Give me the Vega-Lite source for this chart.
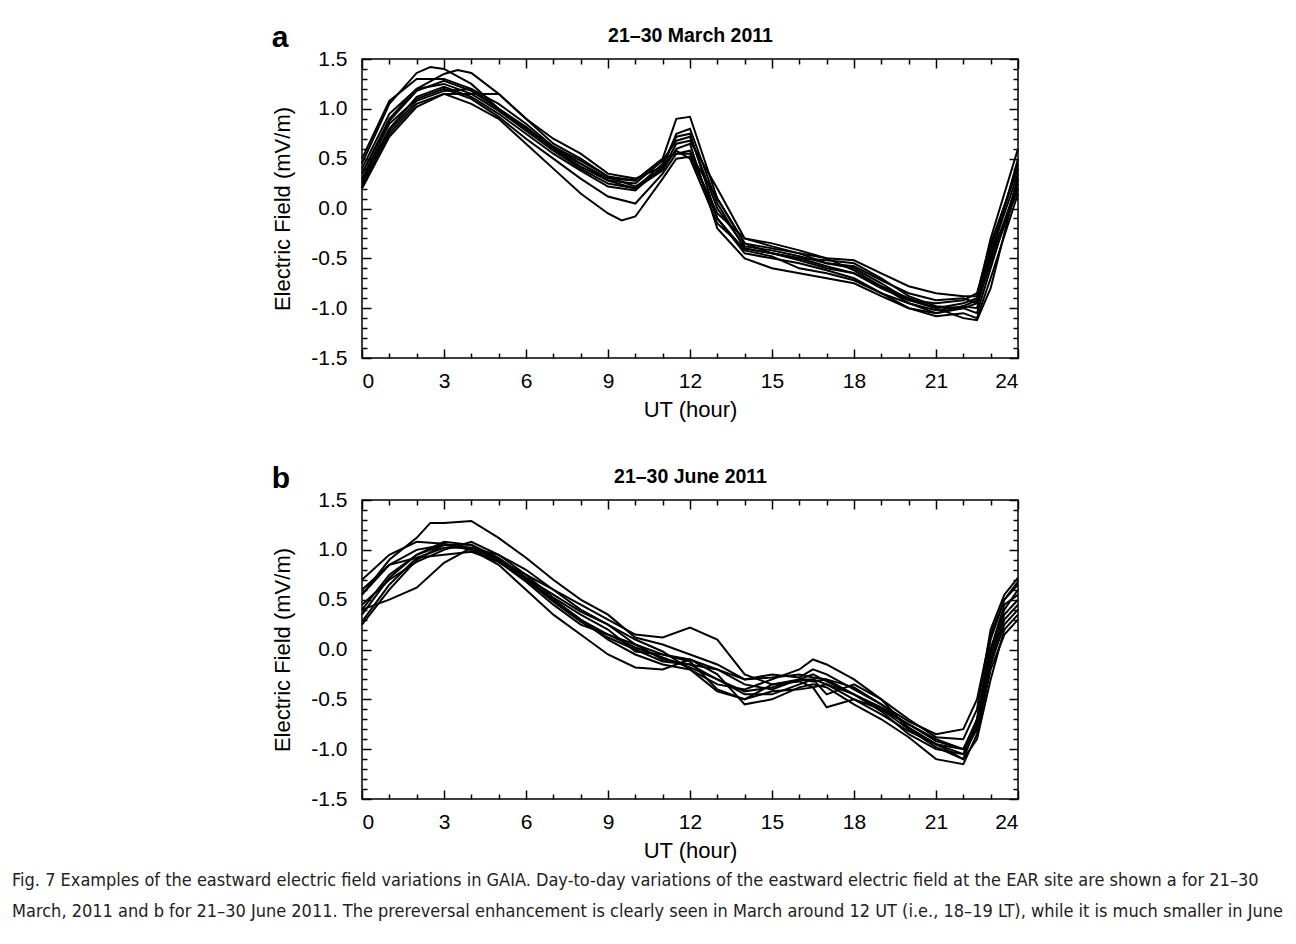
{
"$schema": "https://vega.github.io/schema/vega-lite/v6.json",
"padding": {"left": 12, "top": 22, "right": 6, "bottom": 6},
"background": "white",
"config": {
 "font": "Liberation Sans",
 "view": {"stroke": "black", "strokeWidth": 1.5},
 "concat": {"spacing": 42},
 "axis": {"domain": false, "grid": false, "tickColor": "black", "tickWidth": 1.5, "labelColor": "black", "labelFont": "Liberation Sans", "labelFontSize": 21, "titleFont": "Liberation Sans", "titleFontSize": 22, "titleFontWeight": "normal", "titleColor": "black"}
},
"title": {
 "text": ["Fig. 7 Examples of the eastward electric field variations in GAIA. Day-to-day variations of the eastward electric field at the EAR site are shown a for 21–30", "March, 2011 and b for 21–30 June 2011. The prereversal enhancement is clearly seen in March around 12 UT (i.e., 18–19 LT), while it is much smaller in June"],
 "orient": "bottom", "anchor": "start", "frame": "bounds", "dx": -259, "offset": 10,
 "font": "Liberation Sans Narrow, DejaVu Sans Condensed, sans-serif", "fontSize": 18, "fontWeight": "normal", "color": "#222", "lineHeight": 31
},
"datasets": {
"march": [
{"d":1,"h":0,"v":0.45},{"d":1,"h":1,"v":1.05},{"d":1,"h":2,"v":1.36},{"d":1,"h":2.5,"v":1.42},{"d":1,"h":3,"v":1.40},{"d":1,"h":4,"v":1.25},{"d":1,"h":5,"v":1.0},{"d":1,"h":6,"v":0.8},{"d":1,"h":7,"v":0.62},{"d":1,"h":8,"v":0.48},{"d":1,"h":9,"v":0.32},{"d":1,"h":10,"v":0.28},{"d":1,"h":11,"v":0.5},{"d":1,"h":11.5,"v":0.9},{"d":1,"h":12,"v":0.92},{"d":1,"h":13,"v":0.1},{"d":1,"h":14,"v":-0.35},{"d":1,"h":15,"v":-0.4},{"d":1,"h":16,"v":-0.45},{"d":1,"h":17,"v":-0.55},{"d":1,"h":18,"v":-0.6},{"d":1,"h":19,"v":-0.75},{"d":1,"h":20,"v":-0.92},{"d":1,"h":21,"v":-1.0},{"d":1,"h":22,"v":-0.95},{"d":1,"h":22.5,"v":-0.9},{"d":1,"h":23,"v":-0.4},{"d":1,"h":24,"v":0.45},
{"d":2,"h":0,"v":0.35},{"d":2,"h":1,"v":0.9},{"d":2,"h":2,"v":1.2},{"d":2,"h":3,"v":1.35},{"d":2,"h":3.5,"v":1.39},{"d":2,"h":4,"v":1.36},{"d":2,"h":5,"v":1.15},{"d":2,"h":6,"v":0.9},{"d":2,"h":7,"v":0.7},{"d":2,"h":8,"v":0.55},{"d":2,"h":9,"v":0.35},{"d":2,"h":10,"v":0.3},{"d":2,"h":11,"v":0.42},{"d":2,"h":11.5,"v":0.75},{"d":2,"h":12,"v":0.8},{"d":2,"h":13,"v":0.05},{"d":2,"h":14,"v":-0.4},{"d":2,"h":15,"v":-0.45},{"d":2,"h":16,"v":-0.5},{"d":2,"h":17,"v":-0.52},{"d":2,"h":18,"v":-0.55},{"d":2,"h":19,"v":-0.7},{"d":2,"h":20,"v":-0.88},{"d":2,"h":21,"v":-0.98},{"d":2,"h":22,"v":-1.0},{"d":2,"h":22.5,"v":-1.05},{"d":2,"h":23,"v":-0.6},{"d":2,"h":24,"v":0.3},
{"d":3,"h":0,"v":0.25},{"d":3,"h":1,"v":0.75},{"d":3,"h":2,"v":1.05},{"d":3,"h":3,"v":1.15},{"d":3,"h":4,"v":1.05},{"d":3,"h":5,"v":0.9},{"d":3,"h":6,"v":0.65},{"d":3,"h":7,"v":0.4},{"d":3,"h":8,"v":0.15},{"d":3,"h":9,"v":-0.05},{"d":3,"h":9.5,"v":-0.12},{"d":3,"h":10,"v":-0.08},{"d":3,"h":11,"v":0.3},{"d":3,"h":11.5,"v":0.5},{"d":3,"h":12,"v":0.52},{"d":3,"h":13,"v":-0.05},{"d":3,"h":14,"v":-0.3},{"d":3,"h":15,"v":-0.35},{"d":3,"h":16,"v":-0.42},{"d":3,"h":17,"v":-0.5},{"d":3,"h":18,"v":-0.62},{"d":3,"h":19,"v":-0.78},{"d":3,"h":20,"v":-0.95},{"d":3,"h":21,"v":-1.05},{"d":3,"h":22,"v":-1.0},{"d":3,"h":22.5,"v":-0.95},{"d":3,"h":23,"v":-0.55},{"d":3,"h":24,"v":0.2},
{"d":4,"h":0,"v":0.3},{"d":4,"h":1,"v":0.85},{"d":4,"h":2,"v":1.1},{"d":4,"h":3,"v":1.2},{"d":4,"h":4,"v":1.1},{"d":4,"h":5,"v":0.92},{"d":4,"h":6,"v":0.7},{"d":4,"h":7,"v":0.5},{"d":4,"h":8,"v":0.3},{"d":4,"h":9,"v":0.12},{"d":4,"h":10,"v":0.05},{"d":4,"h":11,"v":0.35},{"d":4,"h":11.5,"v":0.55},{"d":4,"h":12,"v":0.58},{"d":4,"h":13,"v":-0.1},{"d":4,"h":14,"v":-0.45},{"d":4,"h":15,"v":-0.5},{"d":4,"h":16,"v":-0.55},{"d":4,"h":17,"v":-0.62},{"d":4,"h":18,"v":-0.7},{"d":4,"h":19,"v":-0.85},{"d":4,"h":20,"v":-1.0},{"d":4,"h":21,"v":-1.08},{"d":4,"h":22,"v":-1.05},{"d":4,"h":22.5,"v":-1.1},{"d":4,"h":23,"v":-0.7},{"d":4,"h":24,"v":0.15},
{"d":5,"h":0,"v":0.5},{"d":5,"h":1,"v":1.08},{"d":5,"h":2,"v":1.3},{"d":5,"h":3,"v":1.3},{"d":5,"h":4,"v":1.2},{"d":5,"h":5,"v":1.0},{"d":5,"h":6,"v":0.8},{"d":5,"h":7,"v":0.6},{"d":5,"h":8,"v":0.42},{"d":5,"h":9,"v":0.28},{"d":5,"h":10,"v":0.2},{"d":5,"h":11,"v":0.45},{"d":5,"h":11.5,"v":0.72},{"d":5,"h":12,"v":0.75},{"d":5,"h":13,"v":-0.1},{"d":5,"h":14,"v":-0.42},{"d":5,"h":15,"v":-0.48},{"d":5,"h":16,"v":-0.6},{"d":5,"h":17,"v":-0.65},{"d":5,"h":18,"v":-0.72},{"d":5,"h":19,"v":-0.85},{"d":5,"h":20,"v":-0.95},{"d":5,"h":21,"v":-1.02},{"d":5,"h":22,"v":-0.98},{"d":5,"h":22.5,"v":-1.0},{"d":5,"h":23,"v":-0.5},{"d":5,"h":24,"v":0.5},
{"d":6,"h":0,"v":0.2},{"d":6,"h":1,"v":0.72},{"d":6,"h":2,"v":1.02},{"d":6,"h":3,"v":1.15},{"d":6,"h":4,"v":1.15},{"d":6,"h":5,"v":1.15},{"d":6,"h":6,"v":0.9},{"d":6,"h":7,"v":0.65},{"d":6,"h":8,"v":0.5},{"d":6,"h":9,"v":0.32},{"d":6,"h":10,"v":0.22},{"d":6,"h":11,"v":0.4},{"d":6,"h":11.5,"v":0.65},{"d":6,"h":12,"v":0.68},{"d":6,"h":13,"v":0.2},{"d":6,"h":14,"v":-0.3},{"d":6,"h":15,"v":-0.38},{"d":6,"h":16,"v":-0.45},{"d":6,"h":17,"v":-0.5},{"d":6,"h":18,"v":-0.52},{"d":6,"h":19,"v":-0.65},{"d":6,"h":20,"v":-0.78},{"d":6,"h":21,"v":-0.85},{"d":6,"h":22,"v":-0.88},{"d":6,"h":22.5,"v":-0.88},{"d":6,"h":23,"v":-0.3},{"d":6,"h":24,"v":0.6},
{"d":7,"h":0,"v":0.4},{"d":7,"h":1,"v":0.95},{"d":7,"h":2,"v":1.2},{"d":7,"h":3,"v":1.25},{"d":7,"h":4,"v":1.15},{"d":7,"h":5,"v":0.98},{"d":7,"h":6,"v":0.78},{"d":7,"h":7,"v":0.58},{"d":7,"h":8,"v":0.4},{"d":7,"h":9,"v":0.25},{"d":7,"h":10,"v":0.2},{"d":7,"h":11,"v":0.38},{"d":7,"h":11.5,"v":0.6},{"d":7,"h":12,"v":0.65},{"d":7,"h":13,"v":-0.2},{"d":7,"h":14,"v":-0.5},{"d":7,"h":15,"v":-0.6},{"d":7,"h":16,"v":-0.65},{"d":7,"h":17,"v":-0.7},{"d":7,"h":18,"v":-0.75},{"d":7,"h":19,"v":-0.88},{"d":7,"h":20,"v":-1.0},{"d":7,"h":21,"v":-1.05},{"d":7,"h":22,"v":-0.98},{"d":7,"h":22.5,"v":-0.92},{"d":7,"h":23,"v":-0.45},{"d":7,"h":24,"v":0.35},
{"d":8,"h":0,"v":0.28},{"d":8,"h":1,"v":0.8},{"d":8,"h":2,"v":1.12},{"d":8,"h":3,"v":1.22},{"d":8,"h":4,"v":1.12},{"d":8,"h":5,"v":0.95},{"d":8,"h":6,"v":0.75},{"d":8,"h":7,"v":0.55},{"d":8,"h":8,"v":0.38},{"d":8,"h":9,"v":0.22},{"d":8,"h":10,"v":0.18},{"d":8,"h":11,"v":0.42},{"d":8,"h":11.5,"v":0.58},{"d":8,"h":12,"v":0.5},{"d":8,"h":13,"v":-0.15},{"d":8,"h":14,"v":-0.4},{"d":8,"h":15,"v":-0.45},{"d":8,"h":16,"v":-0.52},{"d":8,"h":17,"v":-0.6},{"d":8,"h":18,"v":-0.65},{"d":8,"h":19,"v":-0.8},{"d":8,"h":20,"v":-0.92},{"d":8,"h":21,"v":-0.95},{"d":8,"h":22,"v":-0.92},{"d":8,"h":22.5,"v":-0.85},{"d":8,"h":23,"v":-0.35},{"d":8,"h":24,"v":0.4},
{"d":9,"h":0,"v":0.22},{"d":9,"h":1,"v":0.78},{"d":9,"h":2,"v":1.08},{"d":9,"h":3,"v":1.18},{"d":9,"h":4,"v":1.2},{"d":9,"h":5,"v":1.05},{"d":9,"h":6,"v":0.85},{"d":9,"h":7,"v":0.62},{"d":9,"h":8,"v":0.45},{"d":9,"h":9,"v":0.28},{"d":9,"h":10,"v":0.25},{"d":9,"h":11,"v":0.48},{"d":9,"h":11.5,"v":0.68},{"d":9,"h":12,"v":0.72},{"d":9,"h":13,"v":0.0},{"d":9,"h":14,"v":-0.38},{"d":9,"h":15,"v":-0.42},{"d":9,"h":16,"v":-0.48},{"d":9,"h":17,"v":-0.55},{"d":9,"h":18,"v":-0.58},{"d":9,"h":19,"v":-0.72},{"d":9,"h":20,"v":-0.85},{"d":9,"h":21,"v":-0.92},{"d":9,"h":22,"v":-0.9},{"d":9,"h":22.5,"v":-0.95},{"d":9,"h":23,"v":-0.5},{"d":9,"h":24,"v":0.25},
{"d":10,"h":0,"v":0.35},{"d":10,"h":1,"v":0.88},{"d":10,"h":2,"v":1.18},{"d":10,"h":3,"v":1.28},{"d":10,"h":4,"v":1.18},{"d":10,"h":5,"v":1.0},{"d":10,"h":6,"v":0.82},{"d":10,"h":7,"v":0.6},{"d":10,"h":8,"v":0.45},{"d":10,"h":9,"v":0.3},{"d":10,"h":10,"v":0.28},{"d":10,"h":11,"v":0.5},{"d":10,"h":11.5,"v":0.55},{"d":10,"h":12,"v":0.55},{"d":10,"h":13,"v":0.1},{"d":10,"h":14,"v":-0.35},{"d":10,"h":15,"v":-0.45},{"d":10,"h":16,"v":-0.5},{"d":10,"h":17,"v":-0.58},{"d":10,"h":18,"v":-0.65},{"d":10,"h":19,"v":-0.78},{"d":10,"h":20,"v":-0.9},{"d":10,"h":21,"v":-1.0},{"d":10,"h":22,"v":-1.1},{"d":10,"h":22.5,"v":-1.12},{"d":10,"h":23,"v":-0.8},{"d":10,"h":24,"v":0.3}
],
"june": [
{"d":1,"h":0,"v":0.55},{"d":1,"h":1,"v":0.9},{"d":1,"h":2,"v":1.12},{"d":1,"h":2.5,"v":1.27},{"d":1,"h":3,"v":1.27},{"d":1,"h":4,"v":1.29},{"d":1,"h":5,"v":1.12},{"d":1,"h":6,"v":0.92},{"d":1,"h":7,"v":0.7},{"d":1,"h":8,"v":0.5},{"d":1,"h":9,"v":0.35},{"d":1,"h":10,"v":0.12},{"d":1,"h":11,"v":0.05},{"d":1,"h":12,"v":-0.05},{"d":1,"h":13,"v":-0.15},{"d":1,"h":14,"v":-0.3},{"d":1,"h":15,"v":-0.28},{"d":1,"h":16,"v":-0.25},{"d":1,"h":16.5,"v":-0.28},{"d":1,"h":17,"v":-0.3},{"d":1,"h":18,"v":-0.45},{"d":1,"h":19,"v":-0.6},{"d":1,"h":20,"v":-0.75},{"d":1,"h":21,"v":-0.9},{"d":1,"h":22,"v":-1.0},{"d":1,"h":22.5,"v":-0.8},{"d":1,"h":23,"v":0.0},{"d":1,"h":23.5,"v":0.4},{"d":1,"h":24,"v":0.6},
{"d":2,"h":0,"v":0.4},{"d":2,"h":1,"v":0.5},{"d":2,"h":2,"v":0.62},{"d":2,"h":3,"v":0.87},{"d":2,"h":4,"v":1.02},{"d":2,"h":5,"v":0.95},{"d":2,"h":6,"v":0.8},{"d":2,"h":7,"v":0.6},{"d":2,"h":8,"v":0.4},{"d":2,"h":9,"v":0.25},{"d":2,"h":10,"v":0.05},{"d":2,"h":11,"v":-0.1},{"d":2,"h":12,"v":-0.15},{"d":2,"h":13,"v":-0.3},{"d":2,"h":14,"v":-0.45},{"d":2,"h":15,"v":-0.45},{"d":2,"h":16,"v":-0.35},{"d":2,"h":16.5,"v":-0.3},{"d":2,"h":17,"v":-0.35},{"d":2,"h":18,"v":-0.5},{"d":2,"h":19,"v":-0.65},{"d":2,"h":20,"v":-0.82},{"d":2,"h":21,"v":-0.95},{"d":2,"h":22,"v":-1.1},{"d":2,"h":22.5,"v":-0.75},{"d":2,"h":23,"v":-0.1},{"d":2,"h":23.5,"v":0.3},{"d":2,"h":24,"v":0.45},
{"d":3,"h":0,"v":0.55},{"d":3,"h":1,"v":0.85},{"d":3,"h":2,"v":1.0},{"d":3,"h":3,"v":1.05},{"d":3,"h":4,"v":1.02},{"d":3,"h":5,"v":0.9},{"d":3,"h":6,"v":0.75},{"d":3,"h":7,"v":0.6},{"d":3,"h":8,"v":0.45},{"d":3,"h":9,"v":0.3},{"d":3,"h":10,"v":0.15},{"d":3,"h":11,"v":0.12},{"d":3,"h":12,"v":0.22},{"d":3,"h":13,"v":0.1},{"d":3,"h":14,"v":-0.25},{"d":3,"h":15,"v":-0.35},{"d":3,"h":16,"v":-0.3},{"d":3,"h":16.5,"v":-0.25},{"d":3,"h":17,"v":-0.32},{"d":3,"h":18,"v":-0.45},{"d":3,"h":19,"v":-0.58},{"d":3,"h":20,"v":-0.75},{"d":3,"h":21,"v":-0.92},{"d":3,"h":22,"v":-1.0},{"d":3,"h":22.5,"v":-0.7},{"d":3,"h":23,"v":0.1},{"d":3,"h":23.5,"v":0.5},{"d":3,"h":24,"v":0.65},
{"d":4,"h":0,"v":0.4},{"d":4,"h":1,"v":0.75},{"d":4,"h":2,"v":0.95},{"d":4,"h":3,"v":1.05},{"d":4,"h":4,"v":1.05},{"d":4,"h":5,"v":0.92},{"d":4,"h":6,"v":0.72},{"d":4,"h":7,"v":0.5},{"d":4,"h":8,"v":0.3},{"d":4,"h":9,"v":0.1},{"d":4,"h":10,"v":-0.05},{"d":4,"h":11,"v":-0.15},{"d":4,"h":12,"v":-0.2},{"d":4,"h":13,"v":-0.35},{"d":4,"h":14,"v":-0.4},{"d":4,"h":15,"v":-0.3},{"d":4,"h":16,"v":-0.2},{"d":4,"h":16.5,"v":-0.1},{"d":4,"h":17,"v":-0.15},{"d":4,"h":18,"v":-0.3},{"d":4,"h":19,"v":-0.5},{"d":4,"h":20,"v":-0.7},{"d":4,"h":21,"v":-0.88},{"d":4,"h":22,"v":-0.9},{"d":4,"h":22.5,"v":-0.6},{"d":4,"h":23,"v":0.2},{"d":4,"h":23.5,"v":0.55},{"d":4,"h":24,"v":0.72},
{"d":5,"h":0,"v":0.25},{"d":5,"h":1,"v":0.6},{"d":5,"h":2,"v":0.9},{"d":5,"h":3,"v":1.05},{"d":5,"h":4,"v":1.0},{"d":5,"h":5,"v":0.85},{"d":5,"h":6,"v":0.6},{"d":5,"h":7,"v":0.35},{"d":5,"h":8,"v":0.15},{"d":5,"h":9,"v":-0.05},{"d":5,"h":10,"v":-0.18},{"d":5,"h":11,"v":-0.2},{"d":5,"h":12,"v":-0.1},{"d":5,"h":13,"v":-0.25},{"d":5,"h":14,"v":-0.55},{"d":5,"h":15,"v":-0.5},{"d":5,"h":16,"v":-0.38},{"d":5,"h":16.5,"v":-0.35},{"d":5,"h":17,"v":-0.38},{"d":5,"h":18,"v":-0.55},{"d":5,"h":19,"v":-0.7},{"d":5,"h":20,"v":-0.88},{"d":5,"h":21,"v":-1.1},{"d":5,"h":22,"v":-1.15},{"d":5,"h":22.5,"v":-0.85},{"d":5,"h":23,"v":-0.2},{"d":5,"h":23.5,"v":0.15},{"d":5,"h":24,"v":0.3},
{"d":6,"h":0,"v":0.7},{"d":6,"h":1,"v":0.95},{"d":6,"h":2,"v":1.08},{"d":6,"h":3,"v":1.06},{"d":6,"h":4,"v":1.0},{"d":6,"h":5,"v":0.88},{"d":6,"h":6,"v":0.7},{"d":6,"h":7,"v":0.48},{"d":6,"h":8,"v":0.28},{"d":6,"h":9,"v":0.12},{"d":6,"h":10,"v":0.0},{"d":6,"h":11,"v":-0.12},{"d":6,"h":12,"v":-0.15},{"d":6,"h":13,"v":-0.2},{"d":6,"h":14,"v":-0.35},{"d":6,"h":15,"v":-0.4},{"d":6,"h":16,"v":-0.3},{"d":6,"h":16.5,"v":-0.3},{"d":6,"h":17,"v":-0.45},{"d":6,"h":18,"v":-0.35},{"d":6,"h":19,"v":-0.5},{"d":6,"h":20,"v":-0.8},{"d":6,"h":21,"v":-0.95},{"d":6,"h":22,"v":-1.05},{"d":6,"h":22.5,"v":-0.7},{"d":6,"h":23,"v":0.0},{"d":6,"h":23.5,"v":0.45},{"d":6,"h":24,"v":0.55},
{"d":7,"h":0,"v":0.6},{"d":7,"h":1,"v":0.85},{"d":7,"h":2,"v":0.92},{"d":7,"h":3,"v":0.95},{"d":7,"h":4,"v":0.98},{"d":7,"h":5,"v":0.88},{"d":7,"h":6,"v":0.68},{"d":7,"h":7,"v":0.45},{"d":7,"h":8,"v":0.25},{"d":7,"h":9,"v":0.15},{"d":7,"h":10,"v":0.05},{"d":7,"h":11,"v":-0.05},{"d":7,"h":12,"v":-0.1},{"d":7,"h":13,"v":-0.2},{"d":7,"h":14,"v":-0.3},{"d":7,"h":15,"v":-0.25},{"d":7,"h":16,"v":-0.28},{"d":7,"h":16.5,"v":-0.2},{"d":7,"h":17,"v":-0.25},{"d":7,"h":18,"v":-0.4},{"d":7,"h":19,"v":-0.55},{"d":7,"h":20,"v":-0.72},{"d":7,"h":21,"v":-0.85},{"d":7,"h":22,"v":-0.8},{"d":7,"h":22.5,"v":-0.5},{"d":7,"h":23,"v":0.15},{"d":7,"h":23.5,"v":0.5},{"d":7,"h":24,"v":0.68},
{"d":8,"h":0,"v":0.45},{"d":8,"h":1,"v":0.7},{"d":8,"h":2,"v":0.88},{"d":8,"h":3,"v":1.0},{"d":8,"h":4,"v":1.08},{"d":8,"h":5,"v":0.95},{"d":8,"h":6,"v":0.75},{"d":8,"h":7,"v":0.52},{"d":8,"h":8,"v":0.35},{"d":8,"h":9,"v":0.2},{"d":8,"h":10,"v":-0.02},{"d":8,"h":11,"v":-0.05},{"d":8,"h":12,"v":-0.12},{"d":8,"h":13,"v":-0.4},{"d":8,"h":14,"v":-0.5},{"d":8,"h":15,"v":-0.35},{"d":8,"h":16,"v":-0.32},{"d":8,"h":16.5,"v":-0.38},{"d":8,"h":17,"v":-0.58},{"d":8,"h":18,"v":-0.5},{"d":8,"h":19,"v":-0.6},{"d":8,"h":20,"v":-0.8},{"d":8,"h":21,"v":-0.98},{"d":8,"h":22,"v":-1.1},{"d":8,"h":22.5,"v":-0.9},{"d":8,"h":23,"v":-0.3},{"d":8,"h":23.5,"v":0.2},{"d":8,"h":24,"v":0.35},
{"d":9,"h":0,"v":0.35},{"d":9,"h":1,"v":0.72},{"d":9,"h":2,"v":0.95},{"d":9,"h":3,"v":1.08},{"d":9,"h":4,"v":1.05},{"d":9,"h":5,"v":0.9},{"d":9,"h":6,"v":0.7},{"d":9,"h":7,"v":0.5},{"d":9,"h":8,"v":0.3},{"d":9,"h":9,"v":0.15},{"d":9,"h":10,"v":0.02},{"d":9,"h":11,"v":-0.08},{"d":9,"h":12,"v":-0.18},{"d":9,"h":13,"v":-0.3},{"d":9,"h":14,"v":-0.42},{"d":9,"h":15,"v":-0.38},{"d":9,"h":16,"v":-0.3},{"d":9,"h":16.5,"v":-0.32},{"d":9,"h":17,"v":-0.3},{"d":9,"h":18,"v":-0.38},{"d":9,"h":19,"v":-0.55},{"d":9,"h":20,"v":-0.78},{"d":9,"h":21,"v":-0.95},{"d":9,"h":22,"v":-1.0},{"d":9,"h":22.5,"v":-0.75},{"d":9,"h":23,"v":-0.05},{"d":9,"h":23.5,"v":0.35},{"d":9,"h":24,"v":0.5},
{"d":10,"h":0,"v":0.28},{"d":10,"h":1,"v":0.65},{"d":10,"h":2,"v":0.92},{"d":10,"h":3,"v":1.02},{"d":10,"h":4,"v":1.02},{"d":10,"h":5,"v":0.9},{"d":10,"h":6,"v":0.72},{"d":10,"h":7,"v":0.55},{"d":10,"h":8,"v":0.38},{"d":10,"h":9,"v":0.25},{"d":10,"h":10,"v":0.1},{"d":10,"h":11,"v":-0.02},{"d":10,"h":12,"v":-0.2},{"d":10,"h":13,"v":-0.42},{"d":10,"h":14,"v":-0.5},{"d":10,"h":15,"v":-0.42},{"d":10,"h":16,"v":-0.4},{"d":10,"h":16.5,"v":-0.38},{"d":10,"h":17,"v":-0.35},{"d":10,"h":18,"v":-0.45},{"d":10,"h":19,"v":-0.62},{"d":10,"h":20,"v":-0.85},{"d":10,"h":21,"v":-1.0},{"d":10,"h":22,"v":-1.05},{"d":10,"h":22.5,"v":-0.8},{"d":10,"h":23,"v":-0.15},{"d":10,"h":23.5,"v":0.25},{"d":10,"h":24,"v":0.4}
]
},
"vconcat": [
{
 "width": 656, "height": 299,
 "data": {"name": "march"},
 "title": {"text": "a", "anchor": "start", "frame": "bounds", "fontSize": 30, "fontWeight": "bold", "color": "black", "offset": 0, "dy": 28},
 "layer": [
  {"mark": {"type": "line", "color": "black", "strokeWidth": 2},
   "encoding": {
    "x": {"field": "h", "type": "quantitative", "scale": {"domain": [0, 24], "nice": false},
     "axis": {"orient": "bottom", "values": [0,1,2,3,4,5,6,7,8,9,10,11,12,13,14,15,16,17,18,19,20,21,22,23,24], "tickSize": {"condition": {"test": "datum.value % 3 === 0", "value": -9}, "value": -5}, "labelExpr": "datum.value % 3 === 0 ? datum.label : ''", "labelPadding": 21, "title": "UT (hour)", "titlePadding": 8}},
    "y": {"field": "v", "type": "quantitative", "scale": {"domain": [-1.5, 1.5], "nice": false},
     "axis": {"orient": "left", "values": [-1.5,-1.4,-1.3,-1.2,-1.1,-1.0,-0.9,-0.8,-0.7,-0.6,-0.5,-0.4,-0.3,-0.2,-0.1,0,0.1,0.2,0.3,0.4,0.5,0.6,0.7,0.8,0.9,1.0,1.1,1.2,1.3,1.4,1.5], "tickSize": {"condition": {"test": "abs(round(datum.value*10)) % 5 === 0", "value": -9}, "value": -5}, "labelExpr": "abs(round(datum.value*10)) % 5 === 0 ? (datum.value < 0 ? '-' + format(-datum.value, '.1f') : format(datum.value, '.1f')) : ''", "labelPadding": 24, "title": "Electric Field (mV/m)", "titlePadding": 16}},
    "detail": {"field": "d", "type": "nominal"}
   }},
  {"mark": {"type": "line", "strokeOpacity": 0},
   "encoding": {
    "x": {"field": "h", "type": "quantitative", "scale": {"domain": [0, 24], "nice": false},
     "axis": {"orient": "top", "values": [0,1,2,3,4,5,6,7,8,9,10,11,12,13,14,15,16,17,18,19,20,21,22,23,24], "tickSize": {"condition": {"test": "datum.value % 3 === 0", "value": -9}, "value": -5}, "labels": false, "title": "21–30 March 2011", "titleFontWeight": "bold", "titleFontSize": 19.5, "titlePadding": 13}},
    "y": {"field": "v", "type": "quantitative", "scale": {"domain": [-1.5, 1.5], "nice": false},
     "axis": {"orient": "right", "values": [-1.5,-1.4,-1.3,-1.2,-1.1,-1.0,-0.9,-0.8,-0.7,-0.6,-0.5,-0.4,-0.3,-0.2,-0.1,0,0.1,0.2,0.3,0.4,0.5,0.6,0.7,0.8,0.9,1.0,1.1,1.2,1.3,1.4,1.5], "tickSize": {"condition": {"test": "abs(round(datum.value*10)) % 5 === 0", "value": -9}, "value": -5}, "labels": false, "title": null}},
    "detail": {"field": "d", "type": "nominal"}
   }}
 ],
 "resolve": {"axis": {"x": "independent", "y": "independent"}}
},
{
 "width": 656, "height": 299,
 "data": {"name": "june"},
 "title": {"text": "b", "anchor": "start", "frame": "bounds", "fontSize": 30, "fontWeight": "bold", "color": "black", "offset": 0, "dy": 28},
 "layer": [
  {"mark": {"type": "line", "color": "black", "strokeWidth": 2},
   "encoding": {
    "x": {"field": "h", "type": "quantitative", "scale": {"domain": [0, 24], "nice": false},
     "axis": {"orient": "bottom", "values": [0,1,2,3,4,5,6,7,8,9,10,11,12,13,14,15,16,17,18,19,20,21,22,23,24], "tickSize": {"condition": {"test": "datum.value % 3 === 0", "value": -9}, "value": -5}, "labelExpr": "datum.value % 3 === 0 ? datum.label : ''", "labelPadding": 21, "title": "UT (hour)", "titlePadding": 8}},
    "y": {"field": "v", "type": "quantitative", "scale": {"domain": [-1.5, 1.5], "nice": false},
     "axis": {"orient": "left", "values": [-1.5,-1.4,-1.3,-1.2,-1.1,-1.0,-0.9,-0.8,-0.7,-0.6,-0.5,-0.4,-0.3,-0.2,-0.1,0,0.1,0.2,0.3,0.4,0.5,0.6,0.7,0.8,0.9,1.0,1.1,1.2,1.3,1.4,1.5], "tickSize": {"condition": {"test": "abs(round(datum.value*10)) % 5 === 0", "value": -9}, "value": -5}, "labelExpr": "abs(round(datum.value*10)) % 5 === 0 ? (datum.value < 0 ? '-' + format(-datum.value, '.1f') : format(datum.value, '.1f')) : ''", "labelPadding": 24, "title": "Electric Field (mV/m)", "titlePadding": 16}},
    "detail": {"field": "d", "type": "nominal"}
   }},
  {"mark": {"type": "line", "strokeOpacity": 0},
   "encoding": {
    "x": {"field": "h", "type": "quantitative", "scale": {"domain": [0, 24], "nice": false},
     "axis": {"orient": "top", "values": [0,1,2,3,4,5,6,7,8,9,10,11,12,13,14,15,16,17,18,19,20,21,22,23,24], "tickSize": {"condition": {"test": "datum.value % 3 === 0", "value": -9}, "value": -5}, "labels": false, "title": "21–30 June 2011", "titleFontWeight": "bold", "titleFontSize": 19.5, "titlePadding": 13}},
    "y": {"field": "v", "type": "quantitative", "scale": {"domain": [-1.5, 1.5], "nice": false},
     "axis": {"orient": "right", "values": [-1.5,-1.4,-1.3,-1.2,-1.1,-1.0,-0.9,-0.8,-0.7,-0.6,-0.5,-0.4,-0.3,-0.2,-0.1,0,0.1,0.2,0.3,0.4,0.5,0.6,0.7,0.8,0.9,1.0,1.1,1.2,1.3,1.4,1.5], "tickSize": {"condition": {"test": "abs(round(datum.value*10)) % 5 === 0", "value": -9}, "value": -5}, "labels": false, "title": null}},
    "detail": {"field": "d", "type": "nominal"}
   }}
 ],
 "resolve": {"axis": {"x": "independent", "y": "independent"}}
}
]
}
